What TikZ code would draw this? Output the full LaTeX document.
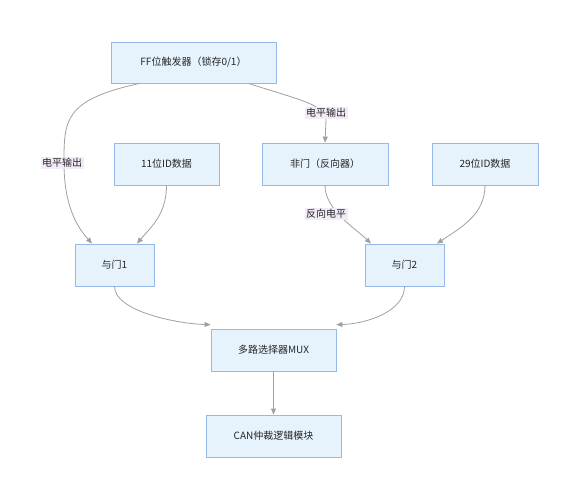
\documentclass[tikz,border=0pt]{standalone}
\usepackage{fontspec}
\setmainfont{Noto Sans CJK SC}
\usetikzlibrary{arrows.meta}
\definecolor{boxfill}{HTML}{E6F3FD}
\definecolor{boxdraw}{HTML}{94B8E8}
\definecolor{edgec}{HTML}{A0A0A0}
\definecolor{lblfill}{HTML}{F3EAF8}
\begin{document}
\begin{tikzpicture}[x=1pt,y=-1pt,
  box/.style={draw=boxdraw,fill=boxfill,line width=0.8pt,inner sep=0pt,font=\fontsize{10}{12}\selectfont,text=black!85},
  edge/.style={draw=edgec,line width=0.8pt,-{Triangle[length=6pt,width=5pt]}},
  lbl/.style={fill=lblfill,inner sep=1.5pt,font=\fontsize{10}{12}\selectfont,text=black!85}]
\useasboundingbox (0,0) rectangle (578,500);
\node[box,minimum width=165pt,minimum height=41pt] (ff) at (193.5,62.5) {FF位触发器（锁存0/1）};
\node[box,minimum width=105pt,minimum height=42pt] (id11) at (166.5,164) {11位ID数据};
\node[box,minimum width=126pt,minimum height=42pt] (inv) at (325,164) {非门（反向器）};
\node[box,minimum width=106pt,minimum height=42pt] (id29) at (485,164) {29位ID数据};
\node[box,minimum width=79pt,minimum height=42pt] (and1) at (114.5,265) {与门1};
\node[box,minimum width=79pt,minimum height=42pt] (and2) at (404.5,265) {与门2};
\node[box,minimum width=125pt,minimum height=42pt] (mux) at (273.5,350) {多路选择器MUX};
\node[box,minimum width=135pt,minimum height=42pt] (can) at (273.5,436) {CAN仲裁逻辑模块};

\coordinate (ffL) at ([xshift=29pt]ff.south west);
\coordinate (ffR) at ([xshift=-28pt]ff.south east);
\coordinate (a1L) at ([xshift=-22.5pt]and1.north);
\coordinate (a1R) at ([xshift=22.5pt]and1.north);
\coordinate (a2L) at ([xshift=-33.5pt]and2.north);
\coordinate (a2R) at ([xshift=32.5pt]and2.north);
\coordinate (mL) at ([yshift=4pt]mux.north west);
\coordinate (mR) at ([yshift=4pt]mux.north east);

\draw[edge] (ffL) .. controls (64,100) and (64,120) .. (64,163) .. controls (64,210) and (80,230) .. (a1L);
\node[lbl] (l1) at (62,163) {电平输出};
\draw[edge] (id11.south) .. controls (166.5,215) and (150,228) .. (a1R);
\draw[edge] (ffR) .. controls (300,100) and (326,105) .. (326,120) -- (inv.north);
\node[lbl] (l2) at (326,113) {电平输出};
\draw[edge] (inv.south) .. controls (325,210) and (355,228) .. (a2L);
\node[lbl] (l3) at (326,214) {反向电平};
\draw[edge] (id29.south) .. controls (485,215) and (460,228) .. (a2R);
\draw[edge] (and1.south) .. controls (114.5,312) and (180,324) .. (mL);
\draw[edge] (and2.south) .. controls (404.5,312) and (365,324) .. (mR);
\draw[edge] (mux.south) -- (can.north);
\end{tikzpicture}
\end{document}
